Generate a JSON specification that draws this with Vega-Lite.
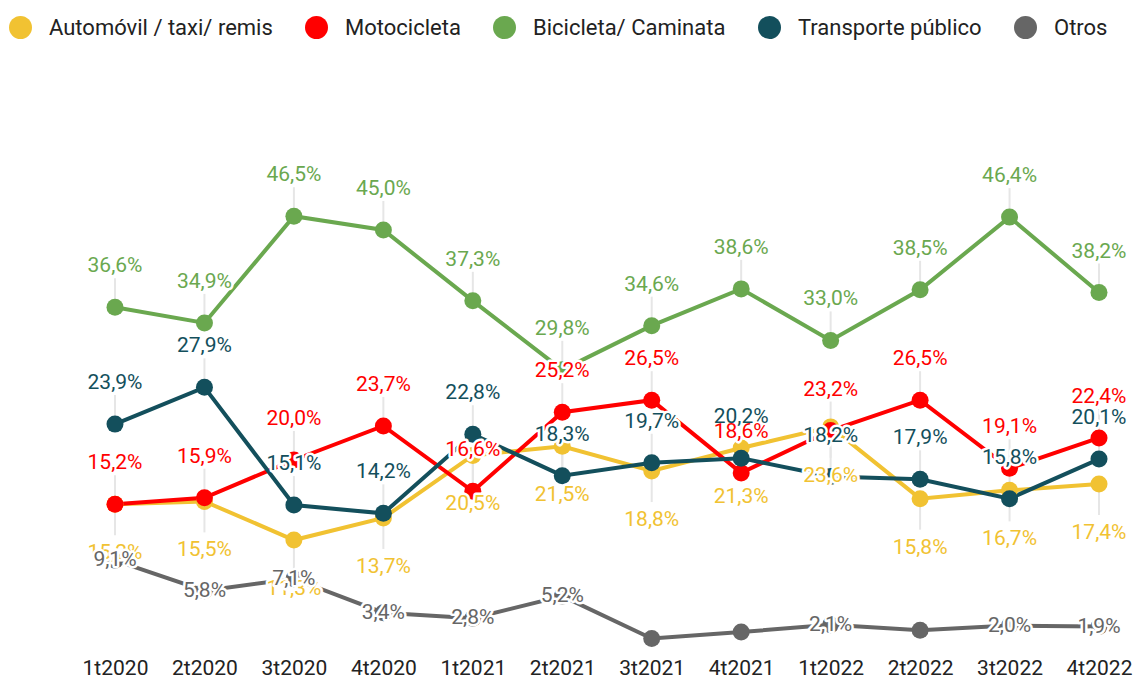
{
  "$schema": "https://vega.github.io/schema/vega-lite/v6.json",
  "width": 984,
  "height": 460,
  "autosize": "none",
  "padding": {"left": 115, "top": 184, "right": 36, "bottom": 35},
  "background": "white",
  "config": {
    "view": {"stroke": null},
    "font": "Roboto",
    "locale": {"number": {"decimal": ",", "thousands": ".", "grouping": [3], "currency": ["$", ""]}}
  },
  "data": {
    "values": [
      {"t": "1t2020", "serie": "Automóvil / taxi/ remis", "v": 0.152},
      {"t": "2t2020", "serie": "Automóvil / taxi/ remis", "v": 0.155},
      {"t": "3t2020", "serie": "Automóvil / taxi/ remis", "v": 0.113},
      {"t": "4t2020", "serie": "Automóvil / taxi/ remis", "v": 0.137},
      {"t": "1t2021", "serie": "Automóvil / taxi/ remis", "v": 0.205},
      {"t": "2t2021", "serie": "Automóvil / taxi/ remis", "v": 0.215},
      {"t": "3t2021", "serie": "Automóvil / taxi/ remis", "v": 0.188},
      {"t": "4t2021", "serie": "Automóvil / taxi/ remis", "v": 0.213},
      {"t": "1t2022", "serie": "Automóvil / taxi/ remis", "v": 0.236},
      {"t": "2t2022", "serie": "Automóvil / taxi/ remis", "v": 0.158},
      {"t": "3t2022", "serie": "Automóvil / taxi/ remis", "v": 0.167},
      {"t": "4t2022", "serie": "Automóvil / taxi/ remis", "v": 0.174},
      {"t": "1t2020", "serie": "Motocicleta", "v": 0.152},
      {"t": "2t2020", "serie": "Motocicleta", "v": 0.159},
      {"t": "3t2020", "serie": "Motocicleta", "v": 0.200},
      {"t": "4t2020", "serie": "Motocicleta", "v": 0.237},
      {"t": "1t2021", "serie": "Motocicleta", "v": 0.166},
      {"t": "2t2021", "serie": "Motocicleta", "v": 0.252},
      {"t": "3t2021", "serie": "Motocicleta", "v": 0.265},
      {"t": "4t2021", "serie": "Motocicleta", "v": 0.186},
      {"t": "1t2022", "serie": "Motocicleta", "v": 0.232},
      {"t": "2t2022", "serie": "Motocicleta", "v": 0.265},
      {"t": "3t2022", "serie": "Motocicleta", "v": 0.191},
      {"t": "4t2022", "serie": "Motocicleta", "v": 0.224},
      {"t": "1t2020", "serie": "Bicicleta/ Caminata", "v": 0.366},
      {"t": "2t2020", "serie": "Bicicleta/ Caminata", "v": 0.349},
      {"t": "3t2020", "serie": "Bicicleta/ Caminata", "v": 0.465},
      {"t": "4t2020", "serie": "Bicicleta/ Caminata", "v": 0.450},
      {"t": "1t2021", "serie": "Bicicleta/ Caminata", "v": 0.373},
      {"t": "2t2021", "serie": "Bicicleta/ Caminata", "v": 0.298},
      {"t": "3t2021", "serie": "Bicicleta/ Caminata", "v": 0.346},
      {"t": "4t2021", "serie": "Bicicleta/ Caminata", "v": 0.386},
      {"t": "1t2022", "serie": "Bicicleta/ Caminata", "v": 0.330},
      {"t": "2t2022", "serie": "Bicicleta/ Caminata", "v": 0.385},
      {"t": "3t2022", "serie": "Bicicleta/ Caminata", "v": 0.464},
      {"t": "4t2022", "serie": "Bicicleta/ Caminata", "v": 0.382},
      {"t": "1t2020", "serie": "Transporte público", "v": 0.239},
      {"t": "2t2020", "serie": "Transporte público", "v": 0.279},
      {"t": "3t2020", "serie": "Transporte público", "v": 0.151},
      {"t": "4t2020", "serie": "Transporte público", "v": 0.142},
      {"t": "1t2021", "serie": "Transporte público", "v": 0.228},
      {"t": "2t2021", "serie": "Transporte público", "v": 0.183},
      {"t": "3t2021", "serie": "Transporte público", "v": 0.197},
      {"t": "4t2021", "serie": "Transporte público", "v": 0.202},
      {"t": "1t2022", "serie": "Transporte público", "v": 0.182},
      {"t": "2t2022", "serie": "Transporte público", "v": 0.179},
      {"t": "3t2022", "serie": "Transporte público", "v": 0.158},
      {"t": "4t2022", "serie": "Transporte público", "v": 0.201},
      {"t": "1t2020", "serie": "Otros", "v": 0.091},
      {"t": "2t2020", "serie": "Otros", "v": 0.058},
      {"t": "3t2020", "serie": "Otros", "v": 0.071},
      {"t": "4t2020", "serie": "Otros", "v": 0.034},
      {"t": "1t2021", "serie": "Otros", "v": 0.028},
      {"t": "2t2021", "serie": "Otros", "v": 0.052},
      {"t": "3t2021", "serie": "Otros", "v": 0.006},
      {"t": "4t2021", "serie": "Otros", "v": 0.013},
      {"t": "1t2022", "serie": "Otros", "v": 0.021},
      {"t": "2t2022", "serie": "Otros", "v": 0.015},
      {"t": "3t2022", "serie": "Otros", "v": 0.020},
      {"t": "4t2022", "serie": "Otros", "v": 0.019}
    ]
  },
  "encoding": {
    "x": {
      "field": "t", "type": "ordinal", "sort": null,
      "scale": {"type": "point", "padding": 0},
      "axis": {"title": null, "domain": false, "ticks": false, "grid": false, "labelAngle": 0,
               "labelFont": "Roboto", "labelFontSize": 21, "labelColor": "#222222", "labelPadding": 13}
    },
    "y": {"field": "v", "type": "quantitative", "scale": {"domain": [0, 0.5], "nice": false, "zero": true}, "axis": null}
  },
  "layer": [
    {
      "transform": [{"filter": "datum.serie !== 'Otros' && datum.serie !== 'Automóvil / taxi/ remis'"}],
      "mark": {"type": "rule", "color": "#e6e6e6", "strokeWidth": 2, "yOffset": -29, "y2Offset": 0},
      "encoding": {"y2": {"field": "v"}}
    },
    {
      "transform": [{"filter": "datum.serie === 'Automóvil / taxi/ remis'"}],
      "mark": {"type": "rule", "color": "#e6e6e6", "strokeWidth": 2, "yOffset": 0, "y2Offset": 31},
      "encoding": {"y2": {"field": "v"}}
    },
    {
      "mark": {"type": "line", "strokeWidth": 4},
      "encoding": {
        "color": {"field": "serie", "type": "nominal",
          "scale": {"domain": ["Automóvil / taxi/ remis", "Motocicleta", "Bicicleta/ Caminata", "Transporte público", "Otros"],
                    "range": ["#f1c232", "#ff0000", "#6aa84f", "#134f5c", "#666666"]},
          "legend": {"title": null, "orient": "none", "legendX": -106, "legendY": -168, "direction": "horizontal",
                     "symbolType": "circle", "symbolSize": 529, "symbolStrokeWidth": 0, "symbolOpacity": 1,
                     "labelFont": "Roboto", "labelFontSize": 22, "labelColor": "#222222",
                     "labelOffset": 17, "columnPadding": 32, "padding": 0, "labelLimit": 400,
                     "encode": {"symbols": {"update": {"fill": {"scale": "color", "field": "value"}, "stroke": {"value": "transparent"}, "opacity": {"value": 1}}}}}}
      }
    },
    {
      "mark": {"type": "point", "filled": true, "size": 289, "opacity": 1},
      "encoding": {
        "color": {"field": "serie", "type": "nominal"}
      }
    },
    {
      "transform": [{"filter": "datum.serie === 'Automóvil / taxi/ remis'"}],
      "mark": {"type": "text", "fontSize": 21, "dy": 49, "baseline": "middle", "stroke": "white", "strokeWidth": 5, "strokeJoin": "round", "fill": "white"},
      "encoding": {"text": {"field": "v", "format": ".1%"}}
    },
    {
      "transform": [{"filter": "datum.serie === 'Automóvil / taxi/ remis'"}],
      "mark": {"type": "text", "fontSize": 21, "dy": 49, "baseline": "middle", "fill": "#f1c232"},
      "encoding": {"text": {"field": "v", "format": ".1%"}}
    },
    {
      "transform": [{"filter": "datum.serie !== 'Otros' && datum.serie !== 'Automóvil / taxi/ remis'"}],
      "mark": {"type": "text", "fontSize": 21, "dy": -41, "baseline": "middle", "stroke": "white", "strokeWidth": 5, "strokeJoin": "round", "fill": "white"},
      "encoding": {"text": {"field": "v", "format": ".1%"}}
    },
    {
      "transform": [{"filter": "datum.serie !== 'Otros' && datum.serie !== 'Automóvil / taxi/ remis'"}],
      "mark": {"type": "text", "fontSize": 21, "dy": -41, "baseline": "middle"},
      "encoding": {"text": {"field": "v", "format": ".1%"},
        "color": {"field": "serie", "type": "nominal"}}
    },
    {
      "transform": [{"filter": "datum.serie === 'Otros' && datum.t !== '3t2021' && datum.t !== '4t2021' && datum.t !== '2t2022'"}],
      "mark": {"type": "text", "fontSize": 21, "baseline": "middle", "stroke": "white", "strokeWidth": 5, "strokeJoin": "round", "fill": "white"},
      "encoding": {"text": {"field": "v", "format": ".1%"}}
    },
    {
      "transform": [{"filter": "datum.serie === 'Otros' && datum.t !== '3t2021' && datum.t !== '4t2021' && datum.t !== '2t2022'"}],
      "mark": {"type": "text", "fontSize": 21, "baseline": "middle", "fill": "#666666"},
      "encoding": {"text": {"field": "v", "format": ".1%"}}
    }
  ]
}
